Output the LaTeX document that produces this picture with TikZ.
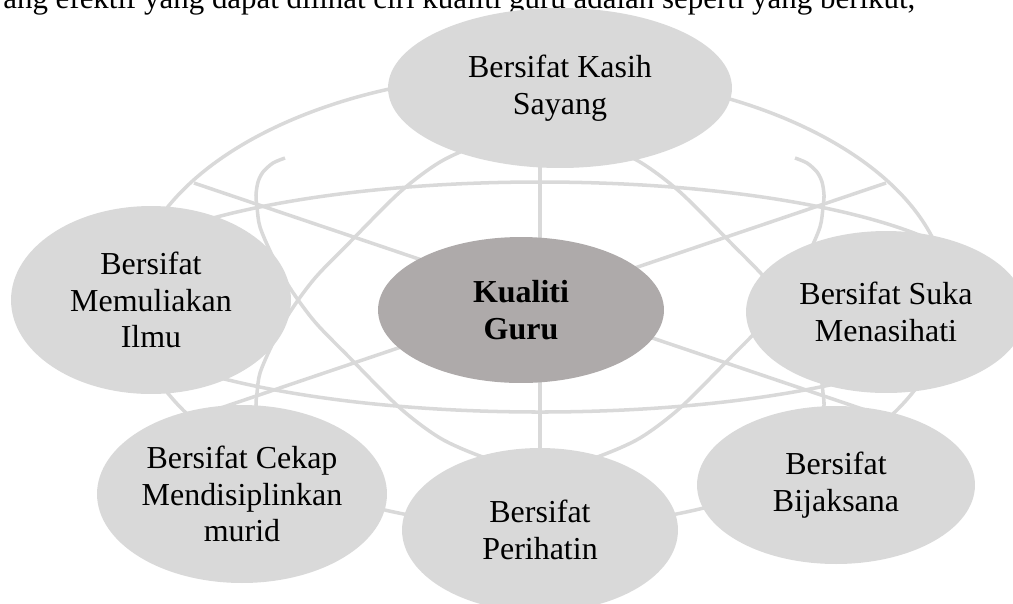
\documentclass[tikz,border=0pt]{standalone}
\usepackage{fontspec}
\setmainfont{Liberation Serif}
\usepackage{tikz}
\usetikzlibrary{shapes}
\definecolor{lightgrey}{RGB}{217,217,217}
\definecolor{midgrey}{RGB}{174,170,170}
\tikzset{ sifat_var/.style = {ellipse, fill=lightgrey, inner sep=0pt, align=center, font=\fontsize{18.2}{20.8}\selectfont} }
\tikzset{ pusat_var/.style = {sifat_var, fill=midgrey, font=\fontsize{18.2}{20.8}\selectfont\bfseries} }
\tikzset{ globe_line/.style = {draw=lightgrey, line width=2pt} }

\begin{document}
\begin{tikzpicture}[x=0.02cm,y=-0.02cm]
            \useasboundingbox (0,0) rectangle (1013,603);
            \node [anchor=base west, inner sep=0pt, font=\fontsize{17.6}{20}\selectfont] (intro) at (3,8) {ang efektif yang dapat dilihat ciri kualiti guru adalah seperti yang berikut,};
            % globe lines
            \coordinate (g) at (540,300);
                    \draw[globe_line] (g) ellipse [x radius=408, y radius=227];
                    \draw[globe_line] (540,297) ellipse [x radius=450, y radius=115];
                    \draw[globe_line] (540,73) -- (540,527);
                    \draw[globe_line] (194,183) -- (886,417);
                    \draw[globe_line] (886,183) -- (194,417);
                    \foreach \sx in {1,-1} {
                      \foreach \sy in {1,-1} {
                        \draw[globe_line, shift={(g)}, xscale=\sx, yscale=\sy] plot[smooth] coordinates {(-255,-142) (-267,-137) (-277,-128) (-282,-118) (-284,-105) (-283,-93) (-280,-73) (-268,-45) (-250,-12) (-225,22) (-190,58) (-140,108) (-100,138) (-60,156) (-20,168)};
                      }
                    }
            % ellipses
                    \node [style=sifat_var, minimum width=6.88cm, minimum height=3.2cm] (kasih) at (560,88) {Bersifat Kasih\\Sayang};
                    \node [style=sifat_var, minimum width=5.6cm, minimum height=3.76cm] (ilmu) at (151,300) {Bersifat\\Memuliakan\\Ilmu};
                    \node [style=sifat_var, minimum width=5.6cm, minimum height=3.24cm] (nasihat) at (886,312) {Bersifat Suka\\Menasihati};
                    \node [style=sifat_var, minimum width=5.8cm, minimum height=3.56cm] (cekap) at (242,494) {Bersifat Cekap\\Mendisiplinkan\\murid};
                    \node [style=sifat_var, minimum width=5.52cm, minimum height=3.28cm] (perihatin) at (540,530) {Bersifat\\Perihatin};
                    \node [style=sifat_var, minimum width=5.56cm, minimum height=3.16cm] (bijak) at (836,485) {Bersifat\\Bijaksana};
                    \node [style=pusat_var, minimum width=5.72cm, minimum height=2.92cm] (kualiti) at (521,310) {Kualiti\\Guru};
            \end{tikzpicture}
\end{document}
